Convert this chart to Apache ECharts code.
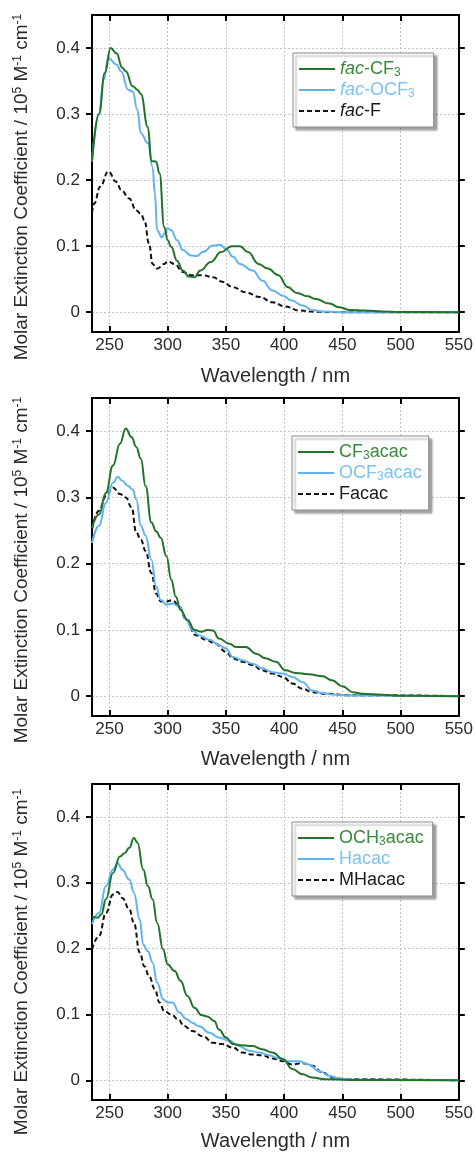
<!DOCTYPE html>
<html>
<head>
<meta charset="utf-8">
<script src="https://cdn.jsdelivr.net/npm/echarts@6/dist/echarts.min.js"></script>
<style>
html,body{margin:0;padding:0;background:#fff;}
#c{width:476px;height:1152px;}
</style>
</head>
<body>
<div id="c"></div>
<script>
// ---------- data ----------
const X_TICKS = [250, 300, 350, 400, 450, 500, 550];
const Y_TICKS = [0, 0.1, 0.2, 0.3, 0.4];

// Panel 1
const P1_NAMES = ['fac-CF3', 'fac-OCF3', 'fac-F'];
const FAC_CF3_X = [235,241,246,251,256,261,264,270,274,277,283,286,290,293,297,300,303,308,313,318,323,328,337,346,355,362,369,378,386,395,403,411,420,427,439,447,456,470,485,500,550];
const FAC_CF3_Y = [0.228,0.30,0.362,0.400,0.392,0.370,0.365,0.342,0.337,0.330,0.280,0.229,0.228,0.210,0.129,0.109,0.099,0.078,0.063,0.054,0.053,0.063,0.076,0.091,0.100,0.100,0.091,0.073,0.066,0.056,0.038,0.029,0.024,0.020,0.013,0.0076,0.0035,0.0025,0.001,0.0003,0];
const FAC_OCF3_X = [235,241,245,249,256,260,266,270,274,277,283,287,289,291,295,297,300,303,308,313,320,325,330,339,345,350,356,362,373,381,390,399,406,416,424,433,450,550];
const FAC_OCF3_Y = [0.228,0.30,0.352,0.385,0.375,0.365,0.337,0.334,0.306,0.271,0.256,0.22,0.18,0.124,0.113,0.119,0.127,0.124,0.109,0.094,0.086,0.085,0.091,0.101,0.102,0.096,0.084,0.073,0.063,0.048,0.033,0.025,0.018,0.010,0.0035,0.001,0,0];
const FAC_F_X = [235,237,242,249,256,260,267,273,277,280,284,287,291,297,300,306,313,320,330,339,347,356,367,379,390,401,413,427,450,550];
const FAC_F_Y = [0.15,0.165,0.19,0.213,0.197,0.185,0.172,0.154,0.149,0.139,0.104,0.073,0.066,0.073,0.077,0.073,0.061,0.056,0.056,0.053,0.046,0.038,0.030,0.023,0.015,0.0086,0.0025,0.0005,0,0];

// Panel 2
const P2_NAMES = ['CF3acac', 'OCF3acac', 'Facac'];
const CF3ACAC_X = [235,241,247,253,259,264,269,273,277,281,286,290,294,299,303,307,311,317,323,329,334,339,344,353,359,367,376,384,393,401,410,421,433,441,450,459,467,484,499,550];
const CF3ACAC_Y = [0.254,0.274,0.307,0.348,0.381,0.404,0.391,0.376,0.358,0.317,0.262,0.249,0.239,0.211,0.176,0.150,0.130,0.115,0.100,0.097,0.100,0.099,0.087,0.079,0.074,0.074,0.064,0.057,0.052,0.039,0.035,0.033,0.030,0.024,0.015,0.006,0.0035,0.002,0.0005,0];
const OCF3ACAC_X = [235,241,247,253,257,261,266,270,273,277,281,286,290,294,299,304,310,316,321,327,336,344,350,356,364,373,381,390,399,407,416,424,433,441,456,550];
const OCF3ACAC_Y = [0.231,0.257,0.292,0.322,0.331,0.325,0.317,0.312,0.297,0.257,0.242,0.206,0.166,0.145,0.138,0.140,0.135,0.115,0.100,0.092,0.085,0.077,0.072,0.059,0.054,0.049,0.042,0.036,0.034,0.029,0.021,0.0086,0.0046,0.0025,0.001,0];
const FACAC_X = [235,241,247,253,259,264,269,273,277,281,286,290,294,299,304,310,316,324,333,341,350,356,364,373,381,390,399,407,416,424,436,456,550];
const FACAC_Y = [0.252,0.280,0.302,0.315,0.305,0.300,0.285,0.247,0.236,0.219,0.186,0.155,0.143,0.143,0.145,0.135,0.115,0.092,0.085,0.079,0.067,0.057,0.052,0.047,0.039,0.034,0.029,0.019,0.011,0.006,0.0035,0.0015,0];

// Panel 3
const P3_NAMES = ['OCH3acac', 'Hacac', 'MHacac'];
const OCH3ACAC_X = [235,240,243,247,253,259,263,267,271,274,279,283,287,291,296,300,306,311,317,323,329,334,340,344,350,356,364,373,381,390,399,407,416,424,436,456,550];
const OCH3ACAC_Y = [0.249,0.247,0.252,0.275,0.315,0.340,0.345,0.353,0.368,0.361,0.320,0.295,0.275,0.239,0.199,0.176,0.166,0.151,0.128,0.110,0.099,0.097,0.090,0.077,0.065,0.055,0.053,0.052,0.047,0.042,0.032,0.017,0.009,0.004,0.0015,0.0005,0];
const HACAC_X = [235,241,247,253,257,261,267,271,276,279,283,287,291,296,300,304,310,316,321,327,336,344,353,361,370,379,387,396,404,413,421,430,439,447,459,550];
const HACAC_Y = [0.237,0.254,0.295,0.320,0.330,0.320,0.305,0.285,0.244,0.206,0.196,0.179,0.148,0.123,0.118,0.118,0.103,0.093,0.0875,0.082,0.072,0.065,0.060,0.052,0.045,0.042,0.038,0.033,0.029,0.029,0.024,0.014,0.0066,0.0025,0.001,0];
const MHACAC_X = [235,241,247,253,257,261,267,271,276,280,284,289,293,297,303,309,314,321,330,339,347,356,364,373,381,390,399,407,416,424,433,441,453,550];
const MHACAC_Y = [0.199,0.219,0.254,0.282,0.286,0.277,0.260,0.239,0.194,0.173,0.158,0.138,0.118,0.105,0.100,0.0926,0.0825,0.075,0.067,0.057,0.055,0.0496,0.042,0.039,0.038,0.033,0.029,0.024,0.026,0.022,0.0116,0.004,0.0015,0];

const X_TITLE = 'Wavelength / nm';
const Y_TITLE = '{a|Molar Extinction Coefficient / 10}{s|5}{a| M}{s|-1}{a| cm}{s|-1}';

// ---------- styling ----------
const FONT = '"Liberation Sans", Arial, Helvetica, sans-serif';
const GREEN = '#22722a', BLUE = '#60b3ee', BLACK = '#111111';
const GREEN_T = '#3a8a3e', BLUE_T = '#7cc2f3', BLACK_T = '#1a1a1a';
const LEGEND_RICH = {
  'fac-CF3': '{i|fac}{n|-CF}{s|3}',
  'fac-OCF3': '{i|fac}{n|-OCF}{s|3}',
  'fac-F': '{i|fac}{n|-F}',
  'CF3acac': '{n|CF}{s|3}{n|acac}',
  'OCF3acac': '{n|OCF}{s|3}{n|acac}',
  'Facac': '{n|Facac}',
  'OCH3acac': '{n|OCH}{s|3}{n|acac}',
  'Hacac': '{n|Hacac}',
  'MHacac': '{n|MHacac}'
};

const panels = [
  {top: 15, height: 317, names: P1_NAMES, xs: [FAC_CF3_X, FAC_OCF3_X, FAC_F_X], ys: [FAC_CF3_Y, FAC_OCF3_Y, FAC_F_Y], legend: {left: 293, top: 53, padRight: 19}, ytitleY: 187, nameGap: 34},
  {top: 398, height: 318, names: P2_NAMES, xs: [CF3ACAC_X, OCF3ACAC_X, FACAC_X], ys: [CF3ACAC_Y, OCF3ACAC_Y, FACAC_Y], legend: {left: 292, top: 436, padRight: 7}, ytitleY: 570, nameGap: 33},
  {top: 784, height: 317, names: P3_NAMES, xs: [OCH3ACAC_X, HACAC_X, MHACAC_X], ys: [OCH3ACAC_Y, HACAC_Y, MHACAC_Y], legend: {left: 292, top: 822, padRight: 9}, ytitleY: 962, nameGap: 31}
];
const COLORS = [GREEN, BLUE, BLACK];
const TCOLORS = [GREEN_T, BLUE_T, BLACK_T];

function zip(xs, ys) { return xs.map((x, i) => [x, ys[i]]); }
function isMult(v, step) { const r = v / step; return Math.abs(r - Math.round(r)) < 1e-6; }

const grid = [], xAxis = [], yAxis = [], series = [], legend = [], graphic = [];
panels.forEach((p, k) => {
  grid.push({left: 92, width: 369, top: p.top, height: p.height, containLabel: false, show: false});
  const axLine = {show: true, onZero: false, lineStyle: {color: '#000', width: 2}};
  // bottom x
  xAxis.push({
    type: 'value', gridIndex: k, position: 'bottom', min: 235, max: 550, splitNumber: 6,
    axisLine: axLine,
    axisTick: {show: true, inside: true, length: 6, lineStyle: {color: '#000', width: 2}, customValues: X_TICKS},
    axisLabel: {show: true, margin: 5, fontSize: 17, color: '#2a2a2a', fontFamily: FONT, customValues: X_TICKS,
      formatter: v => isMult(v, 50) ? String(v) : ''},
    splitLine: {show: true, lineStyle: {color: '#c4c4c4', width: 1, type: [2, 2]}},
    name: X_TITLE, nameLocation: 'middle', nameGap: p.nameGap,
    nameTextStyle: {fontSize: 20, color: '#2a2a2a', fontFamily: FONT}
  });
  // top x
  xAxis.push({
    type: 'value', gridIndex: k, position: 'top', min: 235, max: 550, splitNumber: 6,
    axisLine: axLine,
    axisTick: {show: true, inside: true, length: 6, lineStyle: {color: '#000', width: 2}, customValues: X_TICKS},
    axisLabel: {show: false}, splitLine: {show: false}
  });
  // left y
  yAxis.push({
    type: 'value', gridIndex: k, position: 'left', min: -0.03, max: 0.45, splitNumber: 5,
    axisLine: axLine,
    axisTick: {show: true, inside: false, length: 6, lineStyle: {color: '#000', width: 2}, customValues: Y_TICKS},
    axisLabel: {show: true, margin: 12, fontSize: 17, color: '#2a2a2a', fontFamily: FONT, customValues: Y_TICKS,
      formatter: v => isMult(v, 0.1) ? (Math.abs(v) < 1e-9 ? '0' : v.toFixed(1)) : ''},
    splitLine: {show: true, lineStyle: {color: '#c4c4c4', width: 1, type: [2, 2]}}
  });
  // right y
  yAxis.push({
    type: 'value', gridIndex: k, position: 'right', min: -0.03, max: 0.45, splitNumber: 5,
    axisLine: axLine,
    axisTick: {show: true, inside: false, length: 6, lineStyle: {color: '#000', width: 2}, customValues: Y_TICKS},
    axisLabel: {show: false}, splitLine: {show: false}
  });

  p.names.forEach((name, j) => {
    series.push({
      name: name, type: 'line', xAxisIndex: 2 * k, yAxisIndex: 2 * k,
      data: zip(p.xs[j], p.ys[j]),
      symbol: 'none', showSymbol: false, smooth: 0.45, smoothMonotone: 'x',
      lineStyle: {color: COLORS[j], width: 2, type: j === 2 ? [5, 3] : 'solid'},
      itemStyle: {color: COLORS[j]},
      z: 3 - j, silent: true, animation: false
    });
  });

  legend.push({
    orient: 'vertical', left: p.legend.left, top: p.legend.top,
    itemWidth: 36, itemHeight: 12, itemGap: 1,
    padding: [6, p.legend.padRight, 6, 5],
    backgroundColor: '#fff', borderColor: '#8a8a8a', borderWidth: 1,
    shadowColor: 'rgba(0,0,0,0.35)', shadowBlur: 2, shadowOffsetX: 3, shadowOffsetY: 3,
    selectedMode: false,
    itemStyle: {color: 'rgba(0,0,0,0)', borderColor: 'rgba(0,0,0,0)', borderWidth: 0},
    formatter: n => LEGEND_RICH[n] || n,
    data: p.names.map((n, j) => ({
      name: n,
      itemStyle: {color: 'rgba(0,0,0,0)', borderColor: 'rgba(0,0,0,0)', borderWidth: 0},
      textStyle: {
        color: TCOLORS[j], fontSize: 18, lineHeight: 20, fontFamily: FONT,
        rich: {
          i: {color: TCOLORS[j], fontSize: 18, fontStyle: 'italic', fontFamily: FONT, lineHeight: 20},
          n: {color: TCOLORS[j], fontSize: 18, fontFamily: FONT, lineHeight: 20},
          s: {color: TCOLORS[j], fontSize: 12, fontFamily: FONT, lineHeight: 20, verticalAlign: 'bottom'}
        }
      }
    }))
  });

  graphic.push({
    type: 'text', x: 22, y: p.ytitleY, rotation: Math.PI / 2, silent: true,
    style: {
      text: Y_TITLE, textAlign: 'center', textVerticalAlign: 'middle', align: 'center', verticalAlign: 'middle',
      fill: '#2a2a2a', fontFamily: FONT, fontSize: 19,
      rich: {
        a: {fontSize: 19, fontFamily: FONT, fill: '#2a2a2a', color: '#2a2a2a', lineHeight: 21},
        s: {fontSize: 12, fontFamily: FONT, fill: '#2a2a2a', color: '#2a2a2a', lineHeight: 21, verticalAlign: 'top'}
      }
    }
  });
});

const chart = echarts.init(document.getElementById('c'), null, {renderer: 'canvas'});
chart.setOption({
  animation: false,
  backgroundColor: '#fff',
  textStyle: {fontFamily: FONT},
  grid, xAxis, yAxis, series, legend, graphic
});
</script>
</body>
</html>
